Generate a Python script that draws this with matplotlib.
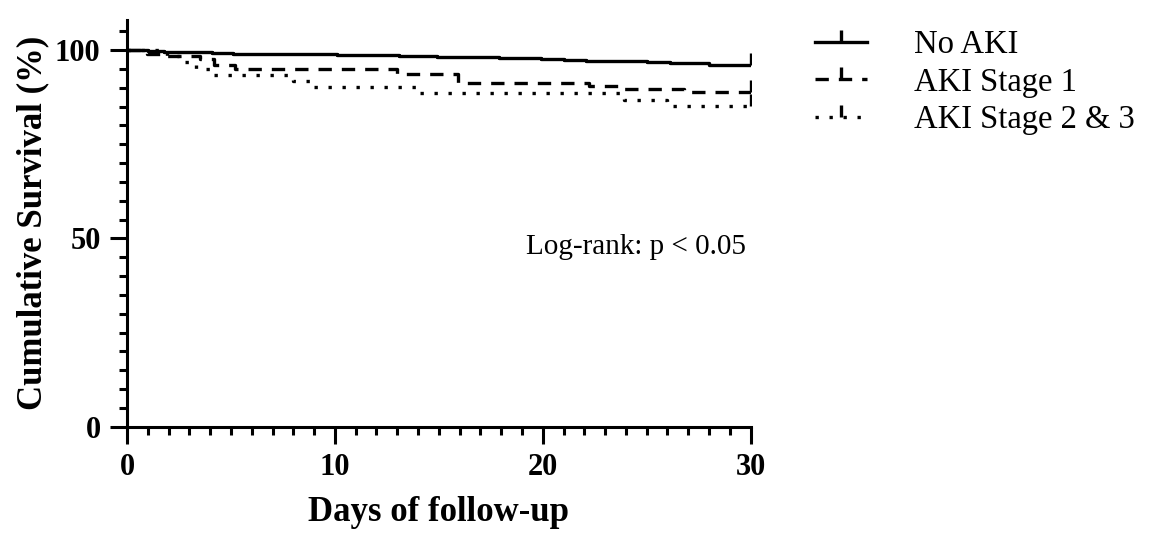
import matplotlib.pyplot as plt
from matplotlib.lines import Line2D
from matplotlib.ticker import MultipleLocator

plt.rcParams['font.family'] = ['Liberation Serif', 'DejaVu Serif']

# Kaplan-Meier step data (day of event, survival %)
no_aki_days = [0, 1.0, 1.8, 3.0, 4.1, 5.1, 10.1, 13.1, 14.9, 17.9, 19.9, 21.0, 22.1, 25.0, 26.1, 28.0, 30]
no_aki_surv = [100, 99.8, 99.6, 99.4, 99.3, 99.1, 98.8, 98.5, 98.2, 97.9, 97.6, 97.4, 97.1, 96.8, 96.5, 96.0, 96.0]

aki1_days = [0, 0.95, 1.9, 3.5, 4.2, 5.2, 13.0, 15.9, 22.2, 23.9, 26.8, 30]
aki1_surv = [100, 99.1, 98.5, 97.6, 96.0, 95.1, 93.6, 91.2, 90.5, 89.7, 89.0, 89.0]

aki23_days = [0, 1.9, 2.5, 3.3, 4.1, 8.0, 8.95, 13.9, 23.9, 26.0, 30]
aki23_surv = [100, 98.5, 96.9, 95.1, 93.5, 91.9, 90.1, 88.6, 86.7, 85.2, 85.2]

labels = ["No AKI", "AKI Stage 1", "AKI Stage 2 & 3"]
styles = ['-', (0, (4.0, 3.0)), (0, (1, 3.2))]
lw = 2.4

fig = plt.figure(figsize=(11.62, 5.35), dpi=100)
ax = fig.add_axes([0.1093, 0.2024, 0.5367, 0.7602])

series = [(no_aki_days, no_aki_surv), (aki1_days, aki1_surv), (aki23_days, aki23_surv)]
handles = []
for (d, s), ls, lab in zip(series, styles, labels):
    ax.step(d, s, where='post', color='black', linestyle=ls, linewidth=lw)
    # censor mark at end of follow-up
    ax.plot([d[-1]], [s[-1]], marker=2, markersize=9, markeredgewidth=lw, color='black')
    handles.append(Line2D([0], [0], color='black', linestyle=ls, linewidth=lw,
                          marker=2, markersize=9, markeredgewidth=lw, markevery=[1]))

ax.set_xlim(0, 30)
ax.set_ylim(0, 108)
ax.xaxis.set_major_locator(MultipleLocator(10))
ax.xaxis.set_minor_locator(MultipleLocator(1))
ax.yaxis.set_major_locator(MultipleLocator(50))
ax.yaxis.set_minor_locator(MultipleLocator(5))

for sp in ['top', 'right']:
    ax.spines[sp].set_visible(False)
for sp in ['left', 'bottom']:
    ax.spines[sp].set_linewidth(2.2)

ax.tick_params(which='major', length=12, width=2.2, labelsize=22, pad=7)
ax.tick_params(which='minor', length=5.5, width=2.2)
for t in ax.get_xticklabels() + ax.get_yticklabels():
    t.set_fontweight('bold')

ax.set_xlabel("Days of follow-up", fontsize=25, fontweight='bold', labelpad=10)
ax.set_ylabel("Cumulative Survival (%)", fontsize=25, fontweight='bold', labelpad=4)

ax.text(29.8, 47.8, "Log-rank: p < 0.05", fontsize=21, ha='right', va='center')

leg = fig.legend(handles, labels, loc='upper left', bbox_to_anchor=(0.701, 0.945),
                 frameon=False, fontsize=23.5, handlelength=1.6, handletextpad=1.45,
                 labelspacing=0.22, borderpad=0, borderaxespad=0)

fig.savefig("out.png", dpi=100)
